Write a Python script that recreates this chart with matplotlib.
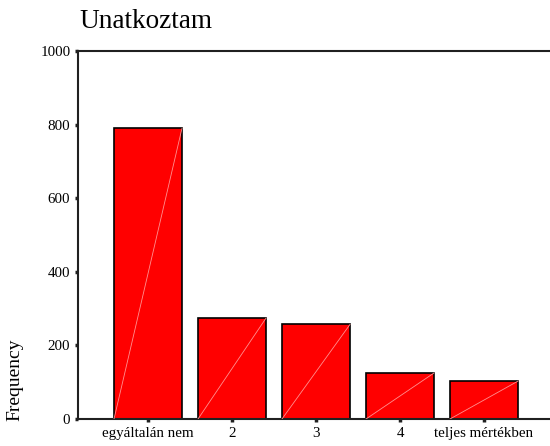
import matplotlib
matplotlib.use("Agg")
import matplotlib.pyplot as plt
import numpy as np

categories = ["egyáltalán nem", "2", "3", "4", "teljes mértékben"]
frequencies = [790, 274, 257, 125, 103]
y_ticks = [0, 200, 400, 600, 800, 1000]
title = "Unatkoztam"

plt.rcParams['font.family'] = ['Liberation Serif', 'DejaVu Serif']

fig = plt.figure(figsize=(5.5, 4.46), dpi=100)
ax = fig.add_axes([78/550, 1-419/446, 1-78/550, (419-51)/446])

x = np.arange(len(categories))
width = 68/84
ax.bar(x, frequencies, width=width, color="#ff0000", edgecolor="black", linewidth=1.2, zorder=2)
for xi, v in zip(x, frequencies):
    ax.plot([xi - width/2, xi + width/2], [0, v], color="#ff9090", linewidth=0.6, zorder=3)

ax.set_xlim(-70/84, (550-148)/84)
ax.set_ylim(0, 1000)
ax.set_xticks(x)
ax.set_xticklabels(categories, fontsize=10.8)
ax.set_yticks(y_ticks)
ax.set_yticklabels([str(t) for t in y_ticks], fontsize=10.8)
ax.tick_params(axis='both', direction='out', length=2.5, width=2.5, color='#202020')
ax.tick_params(axis='x', pad=3)
ax.tick_params(axis='y', pad=3)
ax.spines['right'].set_visible(False)
for s in ['left', 'bottom', 'top']:
    ax.spines[s].set_linewidth(1.5)
    ax.spines[s].set_color('#202020')

fig.text(15/550, 1-380/446, "Frequency", fontsize=14, rotation=90, ha='center', va='center')

fig.text(79/550, 1-21/446, title, fontsize=19.6, ha='left', va='center')

fig.savefig("out.png", dpi=100)
